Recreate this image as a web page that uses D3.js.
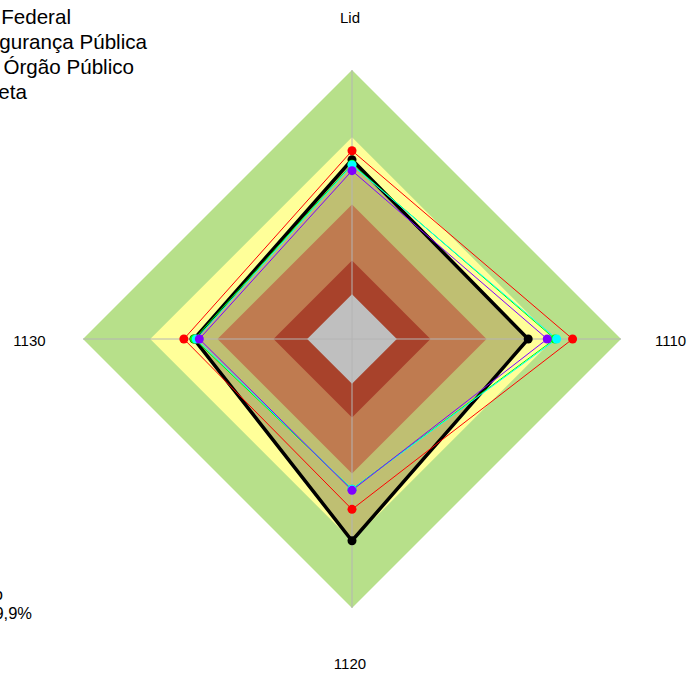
<!DOCTYPE html>
<html lang="pt">
  <head>
    <meta charset="utf-8">
    <title>Radar</title>
    <script src="https://d3js.org/d3.v7.min.js"></script>
    <style>
      body { margin: 0; background: #fff; }
      text { font-family: "Liberation Sans", Arial, sans-serif; fill: #000; }
    </style>
  </head>
  <body>
    <script>
        // axes, clockwise from the top
        const axes = ["Lid", "1110", "1120", "1130"]

        // background bands (upper limit of each level, %)
        const zoneLevels = [100, 70, 40, 15, 0]
        const zoneColors = ["#b7e08a", "#ffff99", "#ffa46b", "#e1583a", "#ffffff"]

        // series values per axis (Lid, 1110, 1120, 1130)
        const federal   = [64, 78.4, 56, 55]
        const seguranca = [58, 70.5, 47, 50.3]
        const orgao     = [57.6, 71.3, 47, 49.5]
        const outro     = [55.1, 67.1, 47.5, 48.1]
        const meta      = [60, 58.6, 70, 50.5]

        const legendLabels = ["Média Federal", "Média Segurança Pública", "Média do Órgão Público", "Meta"]
        const noteLines = ["Intermediário", "40% a 69,9%"]

        const measurements = { width: 696, height: 673, cx: 352, cy: 339, rMax: 269 }

        const svg = d3.select("body").append("svg")
            .attr("width", measurements.width)
            .attr("height", measurements.height)

        const rScale = d3.scaleLinear().domain([-20, 100]).range([0, measurements.rMax])
        const angle = d3.scaleLinear().domain([0, axes.length]).range([-Math.PI / 2, 1.5 * Math.PI])

        function pt(i, v) {
            const a = angle(i)
            return [measurements.cx + rScale(v) * Math.cos(a), measurements.cy + rScale(v) * Math.sin(a)]
        }
        const poly = vals => vals.map((v, i) => pt(i, v))
        const line = d3.line().curve(d3.curveLinearClosed)

        // background diamonds
        svg.append("g").selectAll("path")
            .data(zoneLevels)
            .enter().append("path")
            .attr("d", lv => line(axes.map((a, i) => pt(i, lv))))
            .attr("fill", (lv, i) => zoneColors[i])

        // meta area (dark transparent fill)
        svg.append("path")
            .attr("d", line(poly(meta)))
            .attr("fill", "rgba(0,0,0,0.25)")

        // spokes
        svg.append("g").selectAll("line")
            .data(axes)
            .enter().append("line")
            .attr("x1", measurements.cx).attr("y1", measurements.cy)
            .attr("x2", (d, i) => pt(i, 100)[0])
            .attr("y2", (d, i) => pt(i, 100)[1])
            .attr("stroke", "#b4b4b4")
            .attr("stroke-width", 1)

        const series = [
            { vals: meta, color: "#000000", width: 3.5 },
            { vals: federal, color: "#ff0000", width: 1 },
            { vals: seguranca, color: "#00ff00", width: 1 },
            { vals: orgao, color: "#00ffff", width: 1 },
            { vals: outro, color: "#8000ff", width: 1 }
        ]

        series.forEach(function(s) {
            svg.append("path")
                .attr("d", line(poly(s.vals)))
                .attr("fill", "none")
                .attr("stroke", s.color)
                .attr("stroke-width", s.width)
                .attr("stroke-linejoin", "miter")
        })
        series.forEach(function(s) {
            svg.append("g").selectAll("circle")
                .data(s.vals)
                .enter().append("circle")
                .attr("cx", (v, i) => pt(i, v)[0])
                .attr("cy", (v, i) => pt(i, v)[1])
                .attr("r", 4.5)
                .attr("fill", s.color)
        })

        // axis labels
        svg.append("g").selectAll("text")
            .data(axes)
            .enter().append("text")
            .attr("x", (d, i) => measurements.cx - 2 + 320.5 * Math.cos(angle(i)))
            .attr("y", (d, i) => measurements.cy + 2 + 323 * Math.sin(angle(i)))
            .attr("dy", "0.36em")
            .attr("text-anchor", "middle")
            .style("font-size", "15px")
            .text(d => d)

        // legend (cut off by the left edge)
        const legendEnds = [71, 147, 134, 27]
        svg.append("g").selectAll("text")
            .data(legendLabels)
            .enter().append("text")
            .attr("x", (d, i) => legendEnds[i])
            .attr("y", (d, i) => 24 + i * 25)
            .attr("text-anchor", "end")
            .style("font-size", "20.6px")
            .text(d => d)

        // note bottom left
        const noteEnds = [3, 32]
        svg.append("g").selectAll("text")
            .data(noteLines)
            .enter().append("text")
            .attr("x", (d, i) => noteEnds[i])
            .attr("y", (d, i) => 600 + i * 19)
            .attr("text-anchor", "end")
            .style("font-size", "16.5px")
            .text(d => d)
    </script>
  </body>
</html>
